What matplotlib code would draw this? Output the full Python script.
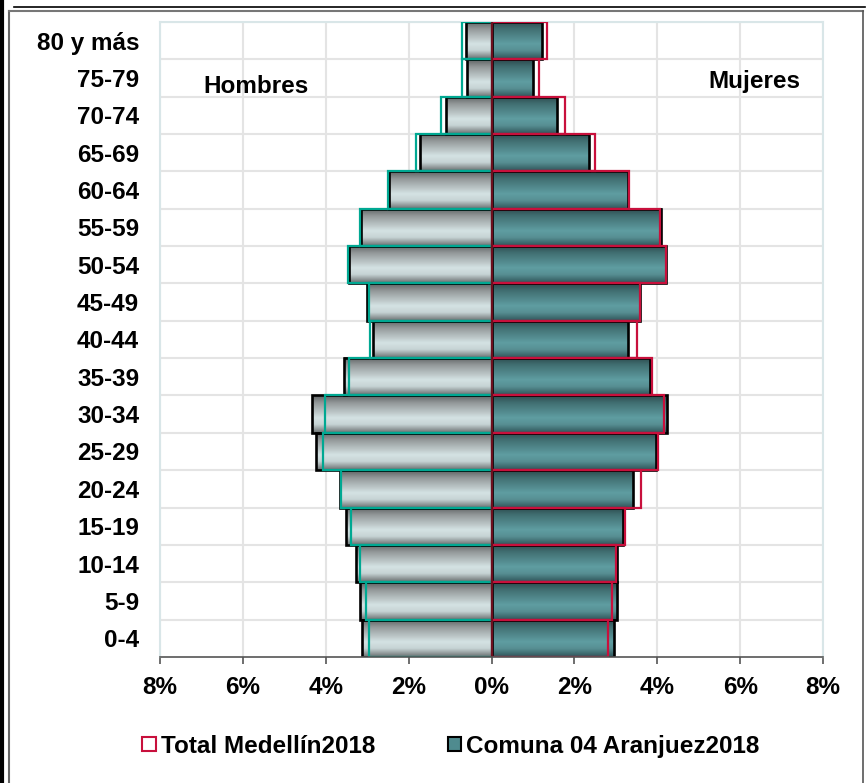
import matplotlib
matplotlib.use("Agg")
import matplotlib.pyplot as plt
import numpy as np
from matplotlib.colors import LinearSegmentedColormap
from matplotlib.patches import Patch
from matplotlib.lines import Line2D

# Data (% of population), from 0-4 (bottom) to 80 y más (top)
groups = ['0-4', '5-9', '10-14', '15-19', '20-24', '25-29', '30-34', '35-39', '40-44',
          '45-49', '50-54', '55-59', '60-64', '65-69', '70-74', '75-79', '80 y más']
comuna_h = [3.12, 3.18, 3.27, 3.50, 3.66, 4.24, 4.34, 3.56, 2.87, 3.00, 3.44, 3.15, 2.47, 1.73, 1.11, 0.60, 0.62]
medellin_h = [2.95, 3.03, 3.18, 3.40, 3.64, 4.06, 4.01, 3.44, 2.92, 2.95, 3.46, 3.18, 2.50, 1.83, 1.21, 0.72, 0.72]
comuna_m = [2.96, 3.04, 3.04, 3.18, 3.42, 3.96, 4.24, 3.82, 3.30, 3.58, 4.21, 4.09, 3.30, 2.36, 1.59, 1.00, 1.21]
medellin_m = [2.81, 2.91, 3.00, 3.22, 3.60, 4.01, 4.17, 3.88, 3.50, 3.59, 4.22, 4.06, 3.31, 2.49, 1.77, 1.15, 1.35]
xticks = [-8, -6, -4, -2, 0, 2, 4, 6, 8]
xticklabels = ['8%', '6%', '4%', '2%', '0%', '2%', '4%', '6%', '8%']

plt.rcParams['font.family'] = ['Liberation Sans', 'DejaVu Sans']
plt.rcParams['font.weight'] = 'bold'
FS = 17.5

cmap_h = LinearSegmentedColormap.from_list('h', [(0, '#5e6263'), (0.2, '#939899'), (0.6, '#d4e2e3'),
                                                 (0.78, '#c6d3d4'), (1, '#6a6f70')])
cmap_m = LinearSegmentedColormap.from_list('m', [(0, '#2b4a4d'), (0.2, '#416f72'), (0.6, '#5f9da1'),
                                                 (0.78, '#578f93'), (1, '#30555a')])
grad = np.linspace(0, 1, 64).reshape(-1, 1)

fig = plt.figure(figsize=(8.67, 7.83), dpi=100)
ax = fig.add_axes([0.1845, 0.161, 0.7648, 0.811])

y = np.arange(len(groups))
h = 1.0

# gradient fills for Comuna bars
for i in range(len(groups)):
    ax.imshow(grad, cmap=cmap_h, aspect='auto', origin='upper', zorder=2,
              extent=(-comuna_h[i], 0, i - h / 2, i + h / 2))
    ax.imshow(grad, cmap=cmap_m, aspect='auto', origin='upper', zorder=2,
              extent=(0, comuna_m[i], i - h / 2, i + h / 2))

# Comuna outlines
ax.barh(y, [-v for v in comuna_h], height=h, facecolor='none', edgecolor='black', lw=1.9, zorder=3)
ax.barh(y, comuna_m, height=h, facecolor='none', edgecolor='black', lw=1.9, zorder=3)
# Total Medellín outlines
ax.barh(y, [-v for v in medellin_h], height=h, facecolor='none', edgecolor='#00a892', lw=1.6, zorder=4)
ax.barh(y, medellin_m, height=h, facecolor='none', edgecolor='#c8103c', lw=1.6, zorder=4)
ax.axvline(0, color='#6e0f1e', lw=1.5, zorder=5)

ax.set_xlim(-8, 8)
ax.set_ylim(-0.5, len(groups) - 0.5)

# grid
for xv in xticks:
    ax.axvline(xv, color='#e4e4e4', lw=1.5, zorder=0)
for i in range(len(groups)):
    ax.axhline(i + 0.5, color='#e4e4e4', lw=1.5, zorder=0)

ax.set_yticks(y)
ax.set_yticklabels(groups, fontsize=FS, fontweight='bold')
ax.tick_params(axis='y', length=0, pad=15)
ax.set_xticks(xticks)
ax.set_xticklabels(xticklabels, fontsize=FS, fontweight='bold')
ax.tick_params(axis='x', length=5, width=1.2, color='#555555', pad=9)

for s in ['top', 'left', 'right']:
    ax.spines[s].set_color('#d9e6e8')
    ax.spines[s].set_linewidth(1.5)
ax.spines['bottom'].set_color('#555555')
ax.spines['bottom'].set_linewidth(1.2)
ax.spines['bottom'].set_zorder(6)

ax.text(0.145, 0.899, 'Hombres', transform=ax.transAxes, ha='center', va='center',
        fontsize=FS, fontweight='bold')
ax.text(0.897, 0.906, 'Mujeres', transform=ax.transAxes, ha='center', va='center',
        fontsize=FS, fontweight='bold')

handles = [Patch(facecolor='white', edgecolor='#c8103c', lw=1.5, label='Total Medellín2018'),
           Patch(facecolor='#4f8b8f', edgecolor='black', lw=1.5, label='Comuna 04 Aranjuez2018')]
fig.legend(handles=handles, loc='center', bbox_to_anchor=(0.52, 0.047), ncol=2, frameon=False,
           prop={'size': FS, 'weight': 'bold'}, handlelength=0.55, handleheight=0.55,
           handletextpad=0.2, columnspacing=3.0)

# outer frame
fig.add_artist(Line2D([0.002, 0.002], [0, 1], color='black', lw=3, transform=fig.transFigure))
fig.add_artist(Line2D([0.010, 0.010], [0, 0.986], color='#666666', lw=1.5, transform=fig.transFigure))
fig.add_artist(Line2D([0.010, 0.995], [0.986, 0.986], color='#777777', lw=1.5, transform=fig.transFigure))
fig.add_artist(Line2D([0.016, 0.998], [0.991, 0.991], color='black', lw=1.2, transform=fig.transFigure))
fig.add_artist(Line2D([0.995, 0.995], [0, 0.986], color='#555555', lw=1.2, transform=fig.transFigure))

fig.savefig('out.png', dpi=100)
